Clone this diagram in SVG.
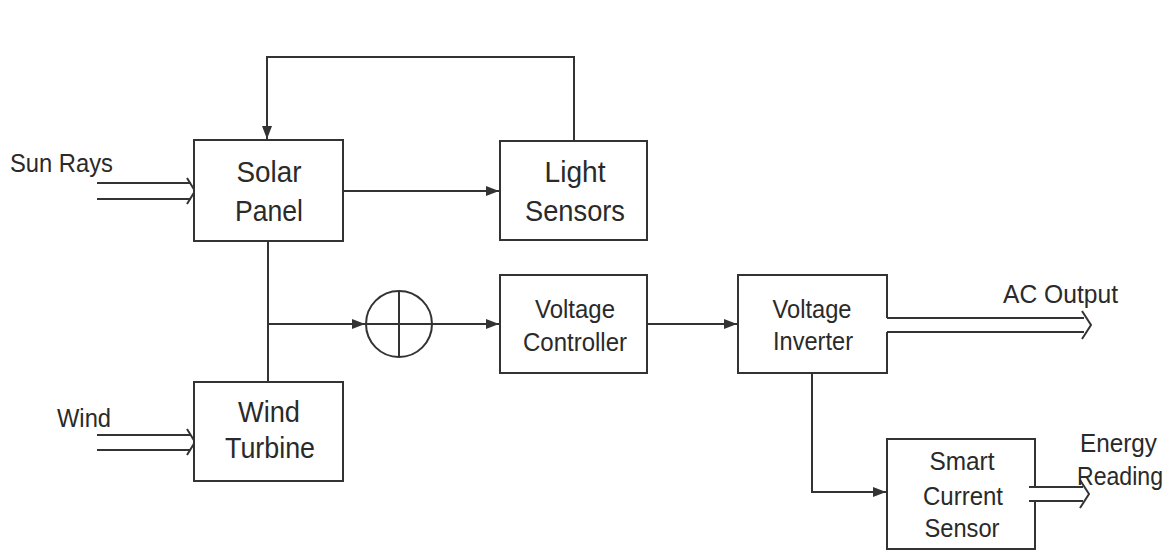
<svg xmlns="http://www.w3.org/2000/svg" width="1169" height="551" viewBox="0 0 1169 551">
<style>
.box{fill:#fff;stroke:#333;stroke-width:2}
.ln{fill:none;stroke:#333;stroke-width:2}
.big{font-family:"Liberation Sans",Arial,sans-serif;font-size:30px;fill:#2a2a2a;text-anchor:middle}
.mid{font-family:"Liberation Sans",Arial,sans-serif;font-size:26px;fill:#2a2a2a;text-anchor:middle}
.lbl{font-family:"Liberation Sans",Arial,sans-serif;font-size:25px;fill:#2a2a2a}
</style>
<defs>
<marker id="ah" markerUnits="userSpaceOnUse" markerWidth="14" markerHeight="12" refX="13" refY="6" orient="auto">
<path d="M0,1 L13,6 L0,11 Z" fill="#333"/>
</marker>
</defs>
<rect width="1169" height="551" fill="#fff"/>

<g id="connectors">
<path class="ln" d="M574,141 V57 H267 V139" marker-end="url(#ah)"/>
<path class="ln" d="M343,191 H499" marker-end="url(#ah)"/>
<path class="ln" d="M268,241 V382"/>
<path class="ln" d="M268,324 H365" marker-end="url(#ah)"/>
<path class="ln" d="M432,324 H499" marker-end="url(#ah)"/>
<path class="ln" d="M647,324 H737" marker-end="url(#ah)"/>
<path class="ln" d="M812,373 V492 H886" marker-end="url(#ah)"/>
<path class="ln" d="M97,183 H191 M97,199 H191 M187,178 L195,191 L187,204"/>
<path class="ln" d="M97,435 H191 M97,450 H191 M187,429 L195,442 L187,455"/>
<path class="ln" d="M887,318 H1084 M887,332 H1084 M1082,311 L1091,325 L1082,339"/>
<path class="ln" d="M1029,487 H1083 M1029,501 H1083 M1080,480 L1089,494 L1080,508"/>
</g>

<g id="sun-rays-label"><text class="lbl" x="10" y="172" textLength="103" lengthAdjust="spacingAndGlyphs">Sun Rays</text></g>
<g id="wind-label"><text class="lbl" x="57" y="427" textLength="54" lengthAdjust="spacingAndGlyphs">Wind</text></g>
<g id="ac-output-label"><text class="lbl" x="1003" y="303" textLength="115" lengthAdjust="spacingAndGlyphs">AC Output</text></g>
<g id="energy-reading-label">
<text class="lbl" x="1080" y="452" textLength="77" lengthAdjust="spacingAndGlyphs">Energy</text>
<text class="lbl" x="1077" y="485" textLength="86" lengthAdjust="spacingAndGlyphs">Reading</text>
</g>

<g id="solar-panel">
<rect class="box" x="194" y="140" width="149" height="101"/>
<text class="big" x="269" y="182" textLength="65" lengthAdjust="spacingAndGlyphs">Solar</text>
<text class="big" x="269" y="221" textLength="68" lengthAdjust="spacingAndGlyphs">Panel</text>
</g>

<g id="light-sensors">
<rect class="box" x="500" y="141" width="147" height="99"/>
<text class="big" x="575" y="182" textLength="61" lengthAdjust="spacingAndGlyphs">Light</text>
<text class="big" x="575" y="221" textLength="100" lengthAdjust="spacingAndGlyphs">Sensors</text>
</g>

<g id="wind-turbine">
<rect class="box" x="194" y="382" width="149" height="99"/>
<text class="big" x="269" y="422" textLength="62" lengthAdjust="spacingAndGlyphs">Wind</text>
<text class="big" x="270" y="458" textLength="90" lengthAdjust="spacingAndGlyphs">Turbine</text>
</g>

<g id="summing-junction">
<circle class="ln" cx="399" cy="324" r="33"/>
<path class="ln" d="M366,324 H432 M399,291 V357"/>
</g>

<g id="voltage-controller">
<rect class="box" x="500" y="275" width="147" height="98"/>
<text class="mid" x="575" y="318" textLength="80" lengthAdjust="spacingAndGlyphs">Voltage</text>
<text class="mid" x="575" y="351" textLength="104" lengthAdjust="spacingAndGlyphs">Controller</text>
</g>

<g id="voltage-inverter">
<path class="ln" d="M887,318 V275 H738 V373 H887 V332"/>
<text class="mid" x="812" y="318" textLength="79" lengthAdjust="spacingAndGlyphs">Voltage</text>
<text class="mid" x="813" y="350" textLength="80" lengthAdjust="spacingAndGlyphs">Inverter</text>
</g>

<g id="smart-current-sensor">
<path class="ln" d="M1035,487 V439 H887 V549 H1035 V501"/>
<text class="mid" x="962" y="470" textLength="65" lengthAdjust="spacingAndGlyphs">Smart</text>
<text class="mid" x="963" y="505" textLength="80" lengthAdjust="spacingAndGlyphs">Current</text>
<text class="mid" x="962" y="537" textLength="75" lengthAdjust="spacingAndGlyphs">Sensor</text>
</g>
</svg>
